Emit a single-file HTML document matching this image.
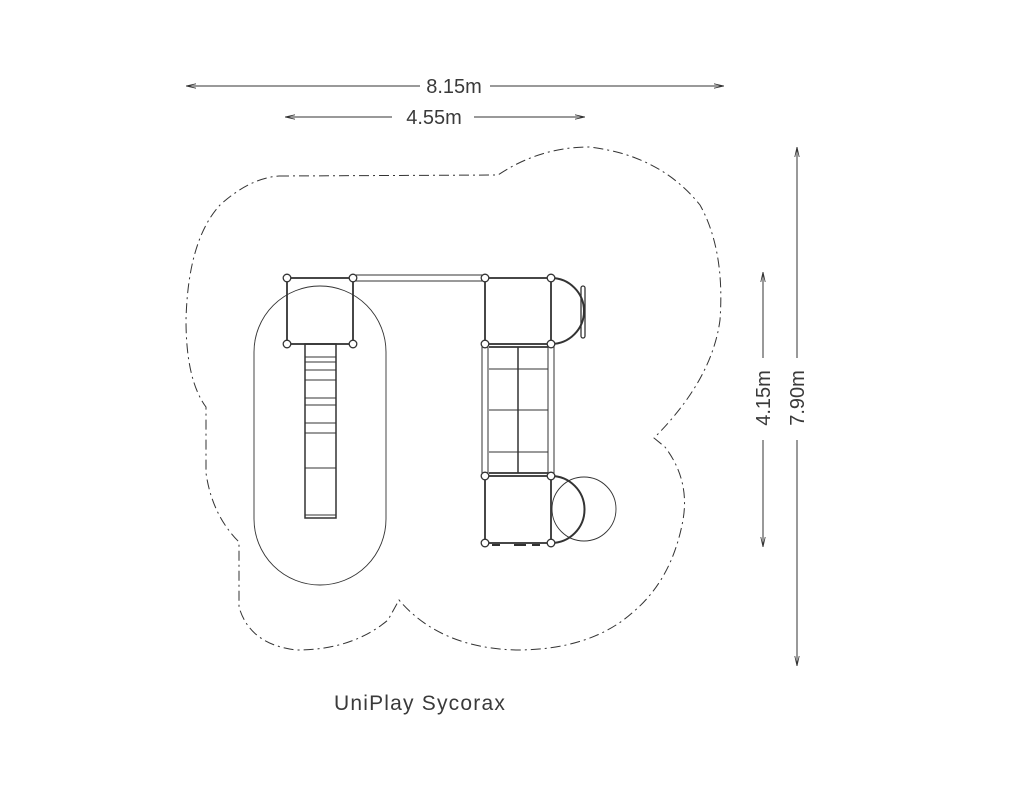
<!DOCTYPE html>
<html><head><meta charset="utf-8"><style>
html,body{margin:0;padding:0;background:#fff;}
svg{display:block}
text{font-family:"Liberation Sans","DejaVu Sans",sans-serif;fill:#3a3a3a;}
</style></head><body>
<svg width="1024" height="791" viewBox="0 0 1024 791" xmlns="http://www.w3.org/2000/svg">
<defs>
<marker id="ar" markerWidth="10" markerHeight="6" refX="10" refY="3" orient="auto" markerUnits="userSpaceOnUse">
<path d="M0,0.8 L10,3 L0,5.2" fill="none" stroke="#333" stroke-width="0.8"/></marker>
</defs>
<g stroke="#333" stroke-width="1" fill="none">
<line x1="420" y1="86" x2="186" y2="86" marker-end="url(#ar)"/>
<line x1="490" y1="86" x2="724" y2="86" marker-end="url(#ar)"/>
<line x1="392" y1="117" x2="285" y2="117" marker-end="url(#ar)"/>
<line x1="474" y1="117" x2="585" y2="117" marker-end="url(#ar)"/>
<line x1="797" y1="358" x2="797" y2="147" marker-end="url(#ar)"/>
<line x1="797" y1="440" x2="797" y2="666" marker-end="url(#ar)"/>
<line x1="763" y1="358" x2="763" y2="272" marker-end="url(#ar)"/>
<line x1="763" y1="440" x2="763" y2="547" marker-end="url(#ar)"/>
<path stroke-dasharray="10,4,2,4" stroke-width="1"
d="M279,176 L498,175 Q540,147 589,147 Q660,155 700,205 Q725,250 720,320 Q712,380 654,438 L665,447 Q690,480 683,520 Q672,580 632,613 Q590,650 516,650 Q440,648 399,600 L388,620 Q352,650 297,650 Q250,645 239,607 L239,542 Q212,515 206,473 L206,407 Q186,380 186,320 Q188,240 220,205 Q250,178 279,176 Z"/>
<rect x="254" y="286" width="132" height="299" rx="66" ry="66" stroke-width="0.9"/>
<circle cx="584" cy="509" r="32" stroke-width="0.9"/>
<g stroke-width="1.8">
<rect x="287" y="278" width="66" height="66"/>
<rect x="485" y="278" width="66" height="66"/>
<rect x="485" y="476" width="66" height="67"/>
</g>
<rect x="353" y="275" width="132" height="6" rx="3" stroke-width="1"/>
<rect x="482" y="344" width="6" height="132" rx="3"/>
<rect x="548" y="344" width="6" height="132" rx="3"/>
<line x1="489" y1="347" x2="548" y2="347" stroke-width="1.8"/>
<line x1="489" y1="473" x2="548" y2="473" stroke-width="1.8"/>
<line x1="518" y1="347" x2="518" y2="473" stroke-width="1.5"/>
<line x1="489" y1="369" x2="548" y2="369"/>
<line x1="489" y1="410" x2="548" y2="410"/>
<line x1="489" y1="452" x2="548" y2="452"/>
<path d="M551,278 A33,33 0 0 1 551,344" stroke-width="2"/>
<path d="M551,476 A33,33 0 0 1 551,543" stroke-width="2"/>
<rect x="581" y="286" width="4" height="52" rx="2" stroke-width="1.3"/>
<rect x="305" y="344" width="31" height="174" stroke-width="1.5"/>
<g stroke-width="0.9">
<line x1="305" y1="357" x2="336" y2="357"/><line x1="305" y1="362" x2="336" y2="362"/>
<line x1="305" y1="370" x2="336" y2="370"/><line x1="305" y1="380" x2="336" y2="380"/>
<line x1="305" y1="398" x2="336" y2="398"/><line x1="305" y1="405" x2="336" y2="405"/>
<line x1="305" y1="423" x2="336" y2="423"/><line x1="305" y1="433" x2="336" y2="433"/>
<line x1="305" y1="468" x2="336" y2="468"/><line x1="305" y1="515" x2="336" y2="515"/>
</g>
<g stroke-width="2"><line x1="492" y1="545" x2="500" y2="545"/><line x1="514" y1="545" x2="526" y2="545"/><line x1="532" y1="545" x2="540" y2="545"/></g>
<g fill="#fff" stroke-width="1.3">
<circle cx="287" cy="278" r="3.8"/><circle cx="353" cy="278" r="3.8"/>
<circle cx="485" cy="278" r="3.8"/><circle cx="551" cy="278" r="3.8"/>
<circle cx="287" cy="344" r="3.8"/><circle cx="353" cy="344" r="3.8"/>
<circle cx="485" cy="344" r="3.8"/><circle cx="551" cy="344" r="3.8"/>
<circle cx="485" cy="476" r="3.8"/><circle cx="551" cy="476" r="3.8"/>
<circle cx="485" cy="543" r="3.8"/><circle cx="551" cy="543" r="3.8"/>
</g>
</g>
<text x="454" y="93" font-size="20" text-anchor="middle">8.15m</text>
<text x="434" y="124" font-size="20" text-anchor="middle">4.55m</text>
<text transform="translate(770,398) rotate(-90)" font-size="20" text-anchor="middle">4.15m</text>
<text transform="translate(804,398) rotate(-90)" font-size="20" text-anchor="middle">7.90m</text>
<text x="420" y="710" font-size="21" text-anchor="middle" letter-spacing="1.2">UniPlay Sycorax</text>
</svg>
</body></html>
